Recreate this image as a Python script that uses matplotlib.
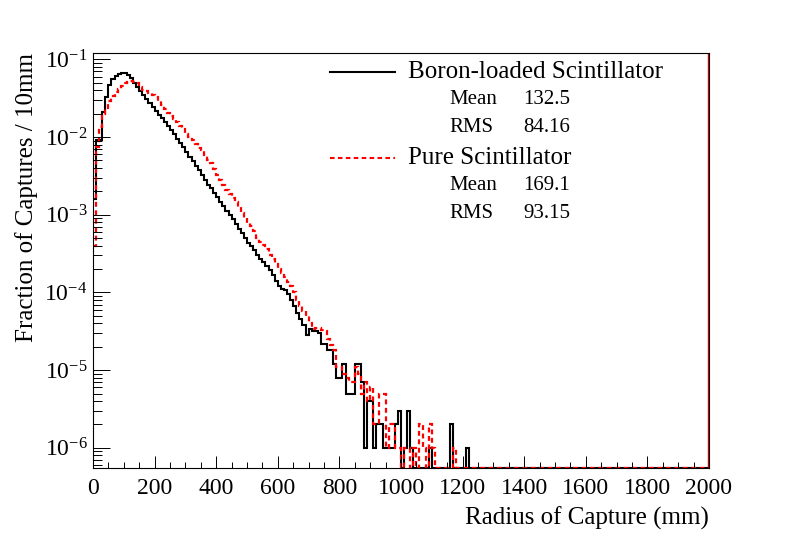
import numpy as np
import matplotlib
matplotlib.use("Agg")
import matplotlib.pyplot as plt
from matplotlib.lines import Line2D
from matplotlib.ticker import MultipleLocator, LogLocator, NullFormatter, LogFormatterMathtext

plt.rcParams['font.family'] = ['Liberation Serif', 'DejaVu Serif']
plt.rcParams['mathtext.fontset'] = 'custom'
plt.rcParams['mathtext.rm'] = 'Liberation Serif'

# 10 mm bins from 0 to 2000 mm, fraction of captures per bin
bin_edges = np.arange(0, 2001, 10)

boron = [
    1.6e-3, 9.1e-3, 9.1e-3, 2.1e-2, 3.3e-2, 4.7e-2, 5.55e-2, 6.1e-2, 6.5e-2, 6.6e-2,
    6.6e-2, 6.3e-2, 5.75e-2, 5.0e-2, 4.47e-2, 3.98e-2, 3.47e-2, 3.09e-2, 2.75e-2, 2.45e-2,
    2.19e-2, 1.95e-2, 1.74e-2, 1.55e-2, 1.38e-2, 1.23e-2, 1.10e-2, 9.55e-3, 8.51e-3, 7.41e-3,
    6.46e-3, 5.62e-3, 4.90e-3, 4.27e-3, 3.72e-3, 3.24e-3, 2.82e-3, 2.45e-3, 2.19e-3, 1.91e-3,
    1.70e-3, 1.48e-3, 1.29e-3, 1.12e-3, 1.0e-3, 8.7e-4, 7.6e-4, 6.6e-4, 5.75e-4, 5.0e-4,
    4.37e-4, 3.98e-4, 3.47e-4, 3.02e-4, 2.69e-4, 2.45e-4, 2.19e-4, 1.95e-4, 1.66e-4, 1.41e-4,
    1.2e-4, 1.1e-4, 1.07e-4, 9.5e-5, 7.9e-5, 6.6e-5, 5.5e-5, 4.5e-5, 3.8e-5, 2.8e-5,
    3.4e-5, 3.2e-5, 3.2e-5, 3.0e-5, 2.2e-5, 2.2e-5, 1.8e-5, 1.8e-5, 1.2e-5, 8e-6,
    8e-6, 1.2e-5, 5e-6, 5e-6, 5e-6, 1.2e-5, 1.2e-5, 7e-6, 1e-6, 4e-6,
    4e-6, 1e-6, 2e-6, 2e-6, 1e-6, 1e-6, 1e-6, 1e-6, 2e-6, 3e-6,
    0, 1e-6, 3e-6, 1e-6, 0, 0, 0, 0, 0, 1e-6,
    0, 0, 0, 0, 0, 0, 2e-6, 0, 0, 0,
    0, 1e-6,
]

pure = [
    4.0e-4, 7.4e-3, 1.35e-2, 2.0e-2, 2.3e-2, 2.9e-2, 3.4e-2, 3.8e-2, 4.17e-2, 4.57e-2,
    4.9e-2, 5.1e-2, 5.2e-2, 5.1e-2, 4.9e-2, 4.47e-2, 4.07e-2, 3.89e-2, 3.72e-2, 3.47e-2,
    3.24e-2, 2.88e-2, 2.57e-2, 2.29e-2, 2.04e-2, 1.86e-2, 1.70e-2, 1.55e-2, 1.41e-2, 1.29e-2,
    1.10e-2, 1.0e-2, 9.1e-3, 8.1e-3, 7.2e-3, 6.8e-3, 5.9e-3, 5.1e-3, 4.6e-3, 3.9e-3,
    3.3e-3, 2.8e-3, 2.45e-3, 2.09e-3, 1.86e-3, 1.66e-3, 1.45e-3, 1.26e-3, 1.07e-3, 9.1e-4,
    7.9e-4, 7.1e-4, 6.2e-4, 5.1e-4, 4.5e-4, 4.1e-4, 3.6e-4, 3.0e-4, 2.7e-4, 2.3e-4,
    2.0e-4, 1.78e-4, 1.6e-4, 1.38e-4, 1.2e-4, 1.0e-4, 7.9e-5, 6.6e-5, 5.75e-5, 5.0e-5,
    4.1e-5, 3.4e-5, 3.5e-5, 3.5e-5, 3.3e-5, 3.2e-5, 2.5e-5, 2.1e-5, 1.8e-5, 1.1e-5,
    1.1e-5, 9e-6, 8e-6, 7e-6, 7e-6, 1.1e-5, 9e-6, 5e-6, 7e-6, 4e-6,
    6e-6, 2e-6, 2e-6, 5e-6, 5e-6, 1e-6, 2e-6, 2e-6, 1e-6, 1e-6,
    0, 1e-6, 1e-6, 0, 1e-6, 0, 2e-6, 1e-6, 0, 2e-6,
    1e-6, 0, 0, 0, 0, 0, 0, 1e-6,
]

stats = {
    "Boron-loaded Scintillator": ("132.5", "84.16"),
    "Pure Scintillator": ("169.1", "93.15"),
}

ymin, ymax = 5.5e-7, 0.121
W, H = 788, 534


def fill_bins(vals):
    out = np.zeros(len(bin_edges) - 1)
    out[:len(vals)] = vals
    # empty bins sit on the bottom of the frame like in ROOT
    return np.where(out > 0, out, ymin)


fig = plt.figure(figsize=(W / 100, H / 100), dpi=100)
ax = fig.add_axes([93 / W, 1 - 468 / H, 616 / W, 415 / H])

ax.stairs(fill_bins(boron), bin_edges, baseline=None, color='black', lw=1.5)
ax.stairs(fill_bins(pure), bin_edges, baseline=None, color='red', lw=1.6,
          linestyle=(0, (2.2, 1.6)))
ax.axvline(1998, color='#cc0000', lw=1.0)

ax.set_yscale('log')
ax.set_xlim(0, 2000)
ax.set_ylim(ymin, ymax)

ax.xaxis.set_major_locator(MultipleLocator(200))
ax.xaxis.set_minor_locator(MultipleLocator(50))
ax.yaxis.set_major_locator(LogLocator(base=10, numticks=20))
ax.yaxis.set_minor_locator(LogLocator(base=10, subs=np.arange(2, 10), numticks=20))
ax.yaxis.set_major_formatter(LogFormatterMathtext())
ax.yaxis.set_minor_formatter(NullFormatter())

ax.tick_params(axis='both', which='both', direction='in', top=False, right=False,
               width=0.7, labelsize=17)
ax.tick_params(axis='y', which='major', length=12, pad=4)
ax.tick_params(axis='y', which='minor', length=6.5)
ax.tick_params(axis='x', which='major', length=8.5, pad=7)
ax.tick_params(axis='x', which='minor', length=4.3)
for s in ax.spines.values():
    s.set_linewidth(0.8)

ax.set_xlabel("Radius of Capture (mm)", fontsize=18, loc='right', labelpad=6)
ax.set_ylabel("Fraction of Captures / 10mm", fontsize=18, loc='top')
ax.yaxis.set_label_coords(-(93 - 38) / 616, 1.0)

# legend with statistics, placed in pixel positions of the original
rows = [(72, 100, 127, 'black', '-'), (158, 186, 213, 'red', (0, (2.2, 1.6)))]
for (name, (mean, rms)), (y0, y1, y2, col, ls) in zip(stats.items(), rows):
    fig.add_artist(Line2D([330 / W, 395 / W], [1 - y0 / H] * 2, color=col, lw=1.5,
                          linestyle=ls))
    fig.text(408 / W, 1 - y0 / H, name, fontsize=18, va='center')
    fig.text(449 / W, 1 - y1 / H, "Mean", fontsize=15, va='center')
    fig.text(523 / W, 1 - y1 / H, mean, fontsize=15, va='center')
    fig.text(449 / W, 1 - y2 / H, "RMS", fontsize=15, va='center')
    fig.text(523 / W, 1 - y2 / H, rms, fontsize=15, va='center')

fig.savefig("out.png", dpi=100)
